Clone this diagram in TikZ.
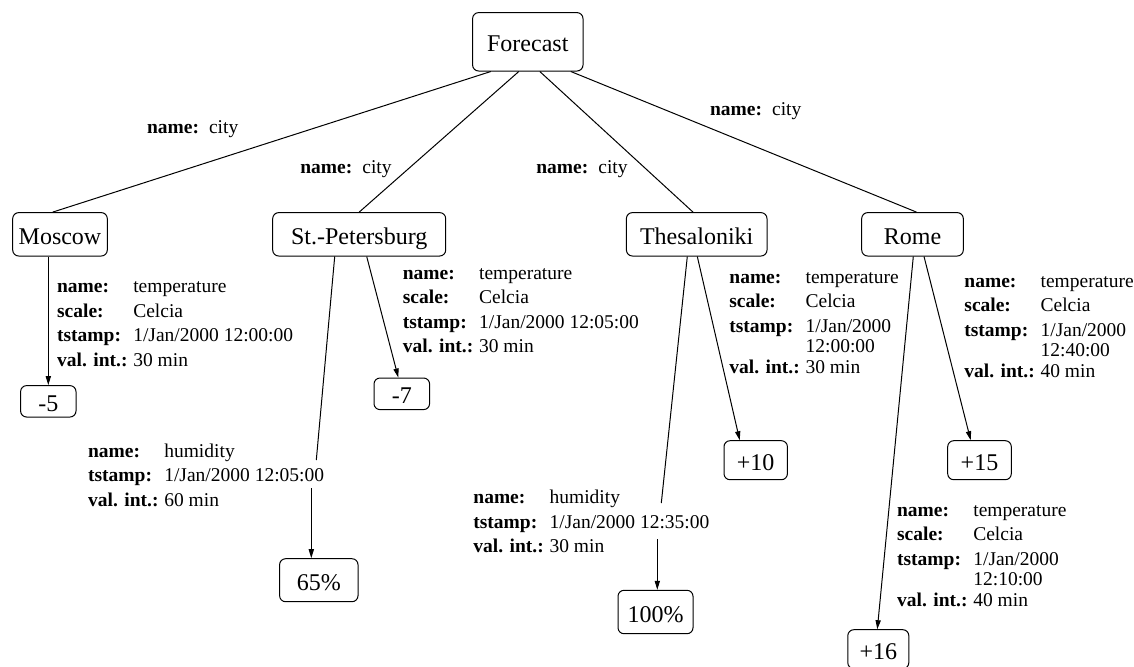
\documentclass[tikz,border=0pt]{standalone}
\usepackage{fontspec}
\setmainfont{Liberation Serif}
\usetikzlibrary{arrows.meta,calc}

\begin{document}
\begin{tikzpicture}[x=0.5pt,y=-0.5pt,
    box/.style={draw, rounded corners=3pt, line width=0.5pt, inner sep=0pt, text height=10pt, text depth=0pt, font=\fontsize{12}{14}\selectfont},
    attr/.style={anchor=base west, inner sep=0pt, font=\fontsize{9.75}{12.25}\selectfont},
    link/.style={line width=0.5pt},
    arr/.style={line width=0.5pt, -{Triangle[length=4.5pt,width=2.6pt]}}]
    \useasboundingbox (0,0) rectangle (1134,666);

    \node[box, minimum width=55.2pt, minimum height=29.2pt] (fc) at (527.8,41.8) {Forecast};

    \node[box, minimum width=47.3pt, minimum height=21.7pt] (msk) at (60,234.3) {Moscow};
    \node[box, minimum width=86.5pt, minimum height=21.7pt] (spb) at (359.2,234.3) {St.-Petersburg};
    \node[box, minimum width=70.3pt, minimum height=21.7pt] (ths) at (696.7,234.3) {Thesaloniki};
    \node[box, minimum width=50.8pt, minimum height=21.7pt] (rom) at (912.5,234.3) {Rome};

    \node[box, minimum width=27.7pt, minimum height=15.7pt] (m5) at (48.3,401.3) {-5};
    \node[box, minimum width=27.8pt, minimum height=15.8pt] (m7) at (401.8,393.8) {-7};
    \node[box, minimum width=39.2pt, minimum height=21.5pt] (h65) at (318.8,580.2) {65\%};
    \node[box, minimum width=31.7pt, minimum height=19.5pt] (p10) at (755.7,460.2) {+10};
    \node[box, minimum width=37.5pt, minimum height=21.7pt] (h100) at (655.5,612) {100\%};
    \node[box, minimum width=31.8pt, minimum height=19.5pt] (p15) at (979.5,460.2) {+15};
    \node[box, minimum width=30.5pt, minimum height=19.5pt] (p16) at (878.3,649.2) {+16};

    \node[attr] (lmsk) at (146.7,133.3) {\textbf{name:}\hspace{5pt}city};
    \node[attr] (lspb) at (300,173.3) {\textbf{name:}\hspace{5pt}city};
    \node[attr] (lths) at (536,173.3) {\textbf{name:}\hspace{5pt}city};
    \node[attr] (lrom) at (709.7,115) {\textbf{name:}\hspace{5pt}city};

    \node[attr] (tmsk) at (56.7,292.7) {\begin{tabular}[t]{@{}l@{\hspace{2.9pt}}l@{}}
        \textbf{name:} & temperature\\ \textbf{scale:} & Celcia\\
        \textbf{tstamp:} & 1/Jan/2000 12:00:00\\ \textbf{val. int.:} & 30 min\end{tabular}};
    \node[attr] (hspb) at (87.7,457) {\begin{tabular}[t]{@{}l@{\hspace{2.9pt}}l@{}}
        \textbf{name:} & humidity\\
        \textbf{tstamp:} & 1/Jan/2000 12:05:00\\ \textbf{val. int.:} & 60 min\end{tabular}};
    \node[attr] (tspb) at (402.5,279.3) {\begin{tabular}[t]{@{}l@{\hspace{2.9pt}}l@{}}
        \textbf{name:} & temperature\\ \textbf{scale:} & Celcia\\
        \textbf{tstamp:} & 1/Jan/2000 12:05:00\\ \textbf{val. int.:} & 30 min\end{tabular}};
    \node[attr] (tths) at (729,283.3) {\begin{tabular}[t]{@{}l@{\hspace{2.9pt}}l@{}}
        \textbf{name:} & temperature\\ \textbf{scale:} & Celcia\\
        \textbf{tstamp:} & 1/Jan/2000\\[-2pt] & 12:00:00\\[-2pt] \textbf{val. int.:} & 30 min\end{tabular}};
    \node[attr] (hths) at (473,503.7) {\begin{tabular}[t]{@{}l@{\hspace{2.9pt}}l@{}}
        \textbf{name:} & humidity\\
        \textbf{tstamp:} & 1/Jan/2000 12:35:00\\ \textbf{val. int.:} & 30 min\end{tabular}};
    \node[attr] (trom) at (964,287.3) {\begin{tabular}[t]{@{}l@{\hspace{2.9pt}}l@{}}
        \textbf{name:} & temperature\\ \textbf{scale:} & Celcia\\
        \textbf{tstamp:} & 1/Jan/2000\\[-2pt] & 12:40:00\\[-2pt] \textbf{val. int.:} & 40 min\end{tabular}};
    \node[attr] (trom2) at (896.7,516.3) {\begin{tabular}[t]{@{}l@{\hspace{2.9pt}}l@{}}
        \textbf{name:} & temperature\\ \textbf{scale:} & Celcia\\
        \textbf{tstamp:} & 1/Jan/2000\\[-2pt] & 12:10:00\\[-2pt] \textbf{val. int.:} & 40 min\end{tabular}};

    \draw[link] ($(fc.south)+(-37,0)$) -- ($(msk.north)+(-7.3,0)$);
    \draw[link] ($(fc.south)+(-9,0)$) -- (spb.north);
    \draw[link] ($(fc.south)+(12,0)$) -- ($(ths.north)+(-3.7,0)$);
    \draw[link] ($(fc.south)+(43,0)$) -- ($(rom.north)+(4,0)$);

    \draw[arr] (m5.north |- msk.south) -- (m5.north);
    \draw[arr] ($(spb.south)+(7.5,0)$) -- ($(m7.north)+(-3.5,0)$);
    \coordinate (h65a) at (316.3,460);
    \coordinate (h65b) at (311.3,488);
    \draw[link] ($(spb.south)+(-24.5,0)$) -- (h65a);
    \draw[arr] (h65b) -- ($(h65.north)+(-7.5,0)$);

    \draw[arr] ($(ths.south)+(0.6,0)$) -- ($(p10.north)+(-16,0)$);
    \coordinate (h100a) at (661.3,503);
    \coordinate (h100b) at (657.3,539);
    \draw[link] ($(ths.south)+(-9.4,0)$) -- (h100a);
    \draw[arr] (h100b) -- ($(h100.north)+(1.8,0)$);

    \draw[arr] ($(rom.south)+(11.5,0)$) -- ($(p15.north)+(-8.8,0)$);
    \draw[arr] ($(rom.south)+(0.8,0)$) -- ($(p16.north)+(-1,0)$);
\end{tikzpicture}
\end{document}
